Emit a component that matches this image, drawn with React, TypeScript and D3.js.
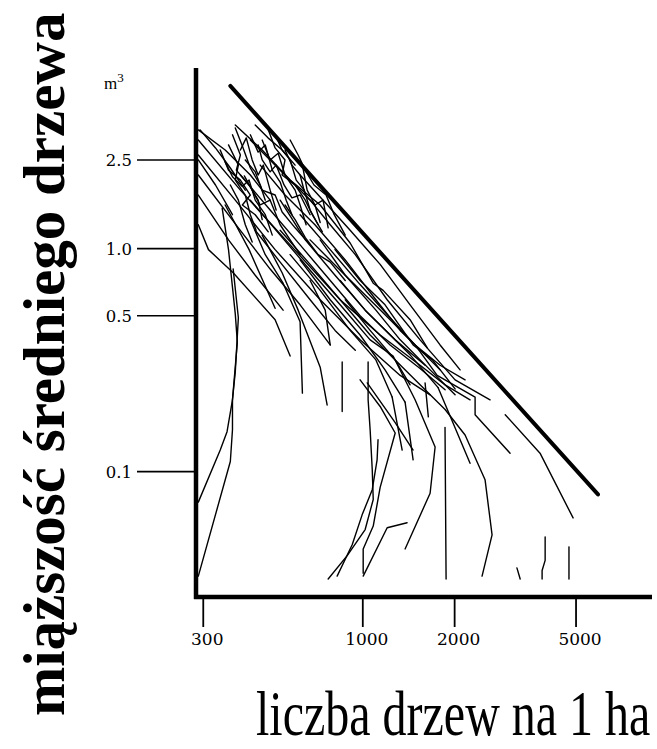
import React from "react";
import * as d3 from "d3";

// x: trees per ha, y: mean tree volume (m3)
const xTicks = [300, 1000, 2000, 5000];
const xTickLabels = ["300", "1000", "2000", "5000"];
const yTicks = [2.5, 1.0, 0.5, 0.1];
const yTickLabels = ["2.5", "1.0", "0.5", "0.1"];

const xDomain: [number, number] = [284, 8870];
const yDomain: [number, number] = [0.0274, 6.46];

// self-thinning boundary line
const boundary: [number, number][] = [[368, 5.37], [5900, 0.079]];

// stand trajectories [N per ha, V m3]
const a1: [number, number][] = [[289,0.073],[341,0.125],[359,0.151],[374,0.21],[388,0.38],[382,0.51],[363,0.99],[346,1.52]];
const a2: [number, number][] = [[289,0.034],[368,0.111],[374,0.154],[374,0.21],[382,0.28],[391,0.49],[376,0.81]];
const a3: [number, number][] = [[770,0.033],[889,0.042],[1018,0.055],[1082,0.075],[1074,0.102],[1057,0.154],[1041,0.21],[1041,0.31]];
const a4: [number, number][] = [[824,0.034],[923,0.047],[995,0.064],[1074,0.083],[1114,0.113],[1122,0.139]];
const a5: [number, number][] = [[1003,0.035],[1003,0.045],[1082,0.057],[1140,0.085],[1277,0.149],[1140,0.196],[980,0.258]];
const a6: [number, number][] = [[1003,0.034],[1202,0.056],[1397,0.059]];
const m10: [number, number][] = [[428,1.65],[536,1.15],[672,0.80],[843,0.56],[1057,0.39],[1257,0.33],[1484,0.21],[1726,0.129],[1662,0.080],[1376,0.045]];
const m5: [number, number][] = [[536,1.21],[672,0.85],[843,0.59],[1057,0.41],[1277,0.317],[1541,0.245],[1861,0.19],[2164,0.146],[2516,0.092],[2653,0.052],[2460,0.034]];
const m6: [number, number][] = [[623,1.42],[782,0.99],[980,0.69],[1229,0.49],[1484,0.37],[1753,0.27],[2334,0.216],[2334,0.18],[3039,0.121]];
const r1: [number, number][] = [[2930,0.18],[3810,0.121],[4890,0.062]];
const r3: [number, number][] = [[1766,0.238],[2247,0.109]];
const v2: [number, number][] = [[1860,0.158],[1875,0.033]];
const v1: [number, number][] = [[856,0.31],[856,0.186]];
const v3: [number, number][] = [[4740,0.046],[4740,0.033]];
const v4: [number, number][] = [[3960,0.051],[3960,0.040],[3870,0.036],[3870,0.033]];
const v5: [number, number][] = [[3200,0.037],[3280,0.033]];
const r8: [number, number][] = [[1600,0.25],[1640,0.176]];
const r9: [number, number][] = [[1376,0.205],[1462,0.113]];
const r10: [number, number][] = [[1248,0.216],[1346,0.125]];
const l1: [number, number][] = [[289,1.28],[312,0.99],[376,0.78],[516,0.48],[578,0.33]];
const m1: [number, number][] = [[354,1.57],[424,0.99],[516,0.54]];
const m2: [number, number][] = [[428,1.35],[479,0.94],[548,0.70],[623,0.47],[634,0.225]];
const m3: [number, number][] = [[468,1.15],[544,0.78],[614,0.53],[725,0.294],[764,0.199]];
const l5: [number, number][] = [[672,0.72],[753,0.53],[782,0.37]];
const l6: [number, number][] = [[1034,0.25],[1277,0.166],[1462,0.125]];
const s1: [number, number][] = [[289,3.07],[397,1.83],[578,1.04],[843,0.59],[1140,0.41],[1541,0.30],[1861,0.245],[2247,0.21]];
const s2: [number, number][] = [[289,2.63],[382,1.65],[516,0.99],[725,0.59],[980,0.39],[1326,0.27],[1662,0.221]];
const s3: [number, number][] = [[289,2.14],[391,1.24],[497,0.81],[623,0.56],[782,0.37]];
const s4: [number, number][] = [[289,1.74],[363,1.095],[444,0.76],[548,0.53]];
const s5: [number, number][] = [[289,3.41],[354,2.77],[428,2.14],[497,1.65]];
const s6: [number, number][] = [[289,2.5],[329,1.93],[374,1.42]];
const u1: [number, number][] = [[382,3.59],[468,2.77],[578,2.03],[725,1.57],[909,1.06],[1082,0.70],[1166,0.65],[1429,0.48],[1625,0.36]];
const u2: [number, number][] = [[428,3.07],[536,2.25],[672,1.65],[782,1.28],[945,0.94],[1202,0.59],[1541,0.39],[2007,0.258],[2613,0.21]];
const u3: [number, number][] = [[623,2.14],[741,1.65],[909,1.21],[1140,0.85],[1429,0.56],[1792,0.37],[2084,0.286]];
const b1: [number, number][] = [[461,2.37],[556,1.74],[697,1.28],[876,0.89],[1104,0.59],[1326,0.43],[1601,0.334],[1792,0.286]];
const b2: [number, number][] = [[397,2.14],[497,1.49],[623,1.04],[782,0.72],[980,0.50],[1229,0.37],[1541,0.29],[1861,0.233]];
const b3: [number, number][] = [[536,1.65],[648,1.095],[811,0.76],[1018,0.53],[1277,0.39],[1601,0.30]];
const b4: [number, number][] = [[725,1.095],[876,0.76],[1104,0.53],[1326,0.39],[1662,0.286],[2007,0.221]];
const b5: [number, number][] = [[578,0.94],[725,0.65],[909,0.43],[1104,0.317],[1248,0.216]];
const b6: [number, number][] = [[623,0.89],[782,0.59],[980,0.41],[1183,0.286],[1376,0.205]];
const b7: [number, number][] = [[843,0.72],[1018,0.53],[1229,0.41],[1429,0.334],[1766,0.238]];
const b8: [number, number][] = [[444,1.21],[536,0.87],[672,0.59],[811,0.43],[945,0.35]];
const b9: [number, number][] = [[811,0.99],[980,0.72],[1183,0.56],[1462,0.37],[1691,0.317],[2007,0.235]];
const b10: [number, number][] = [[672,1.095],[843,0.80],[1018,0.62],[1229,0.48],[1484,0.37],[1792,0.30],[2164,0.258]];
const b11: [number, number][] = [[876,0.59],[1057,0.43],[1277,0.317],[1429,0.245]];
const z1: [number, number][] = [[363,2.92],[391,2.37],[382,2.03],[412,1.74],[428,1.42],[447,1.21]];
const z2: [number, number][] = [[397,2.77],[415,3.14],[434,2.5],[454,2.14],[472,2.37],[497,1.83],[520,1.49]];
const z3: [number, number][] = [[428,3.24],[454,2.71],[479,2.92],[505,2.25],[536,1.99],[561,1.65],[586,1.42]];
const z4: [number, number][] = [[468,3.07],[497,2.5],[528,2.68],[556,2.14],[600,1.83],[623,1.57],[652,1.28]];
const z5: [number, number][] = [[354,2.45],[374,2.10],[403,1.90],[424,2.03],[444,1.65],[479,1.42],[505,1.15]];
const z6: [number, number][] = [[382,3.48],[403,2.89],[428,2.30],[461,1.93],[479,1.65]];
const z7: [number, number][] = [[516,3.24],[544,2.77],[578,2.5],[605,2.03],[643,1.83],[672,1.49],[714,1.28]];
const z8: [number, number][] = [[409,2.12],[434,1.83],[461,1.57],[497,1.65],[536,1.28],[578,1.095],[623,0.94]];
const z9: [number, number][] = [[556,2.77],[586,2.37],[623,2.14],[648,1.74],[697,1.57],[725,1.31]];
const z10: [number, number][] = [[368,1.93],[391,1.65],[412,1.28],[434,1.07]];
const z11: [number, number][] = [[634,2.37],[657,1.83],[697,1.57],[741,1.65],[770,1.24]];
const z12: [number, number][] = [[444,3.59],[489,3.14],[544,2.77],[600,2.37]];
const z13: [number, number][] = [[293,3.41],[329,2.83],[368,2.30],[412,1.83]];
const z14: [number, number][] = [[374,3.24],[397,2.63],[385,2.25],[424,1.93],[454,1.65],[468,1.35]];
const z15: [number, number][] = [[490,3.41],[516,2.83],[556,2.5],[544,2.14],[600,1.93],[648,1.65],[683,1.42],[737,1.19]];
const z16: [number, number][] = [[412,2.5],[444,2.21],[468,1.83],[516,1.74],[544,1.46],[600,1.24],[672,1.04]];
const z17: [number, number][] = [[578,3.07],[614,2.63],[652,2.21],[692,1.93],[758,1.74],[806,1.42],[876,1.15]];
const z18: [number, number][] = [[341,2.77],[363,2.25],[397,2.03],[428,1.74],[403,1.57],[444,1.42],[490,1.19]];
const z19: [number, number][] = [[454,2.92],[468,2.5],[497,2.21],[520,2.37],[552,1.93],[586,1.69],[623,1.74],[672,1.42]];
const z20: [number, number][] = [[556,1.57],[600,1.35],[648,1.12],[714,0.94],[782,0.87],[876,0.72]];

const trajectories = [
  a1, a2, a3, a4, a5, a6, m10, m5, m6, r1, r3, v1, v2, v3, v4, v5, r8, r9, r10,
  l1, m1, m2, m3, l5, l6, s1, s2, s3, s4, s5, s6, u1, u2, u3,
  b1, b2, b3, b4, b5, b6, b7, b8, b9, b10, b11,
  z1, z2, z3, z4, z5, z6, z7, z8, z9, z10, z11, z12, z13,
  z14, z15, z16, z17, z18, z19, z20,
];

export default function App() {
  const x = d3.scaleLog().domain(xDomain).range([196, 652]);
  const y = d3.scaleLog().domain(yDomain).range([597, 68]);
  const line = d3
    .line<[number, number]>()
    .x((d) => x(d[0]))
    .y((d) => y(d[1]));

  const [x0, x1] = x.range();
  const [yb, yt] = y.range();

  return (
    <svg
      width={657}
      height={749}
      style={{ position: "absolute", left: 0, top: 0, background: "#fff" }}
    >
      <rect x={0} y={0} width={657} height={749} fill="#fff" />
      {/* trajectories */}
      <g fill="none" stroke="#000" strokeWidth={1.4} strokeLinejoin="round" strokeLinecap="round">
        {trajectories.map((t, i) => (
          <path key={i} d={line(t) || ""} />
        ))}
      </g>
      {/* boundary */}
      <path d={line(boundary) || ""} fill="none" stroke="#000" strokeWidth={4} strokeLinecap="round" />
      {/* axes */}
      <line x1={x0} y1={yt} x2={x0} y2={yb + 2} stroke="#000" strokeWidth={4.5} />
      <line x1={x0 - 2} y1={yb} x2={x1} y2={yb} stroke="#000" strokeWidth={4.5} />
      {/* y ticks */}
      {yTicks.map((v, i) => (
        <g key={"yt" + i}>
          <line x1={137} x2={x0} y1={y(v)} y2={y(v)} stroke="#000" strokeWidth={1.6} />
          <text
            x={132}
            y={y(v)}
            dy="0.36em"
            textAnchor="end"
            fontFamily="'DejaVu Serif', serif"
            fontSize={16.5}
            fill="#000"
          >
            {yTickLabels[i]}
          </text>
        </g>
      ))}
      {/* x ticks */}
      {xTicks.map((v, i) => (
        <g key={"xt" + i}>
          <line x1={x(v)} x2={x(v)} y1={yb} y2={yb + 30} stroke="#000" strokeWidth={1.8} />
          <text
            x={x(v) + 4}
            y={645}
            textAnchor="middle"
            fontFamily="'DejaVu Serif', serif"
            fontSize={17}
            fill="#000"
          >
            {xTickLabels[i]}
          </text>
        </g>
      ))}
      {/* unit */}
      <text x={104} y={89} fontFamily="'Liberation Serif', serif" fontSize={17} fill="#000">
        m<tspan dy={-7} fontSize={13}>3</tspan>
      </text>
      {/* axis titles */}
      <text
        transform="translate(64,716) rotate(-90)"
        fontFamily="'Liberation Serif', serif"
        fontWeight="bold"
        fontSize={59}
        fill="#000"
      >
        miąższość średniego drzewa
      </text>
      <text
        transform="translate(256,735) scale(1,1.3)"
        x={0}
        y={0}
        fontFamily="'Liberation Serif', serif"
        fontSize={48}
        fill="#000"
      >
        liczba drzew na 1 ha
      </text>
    </svg>
  );
}
